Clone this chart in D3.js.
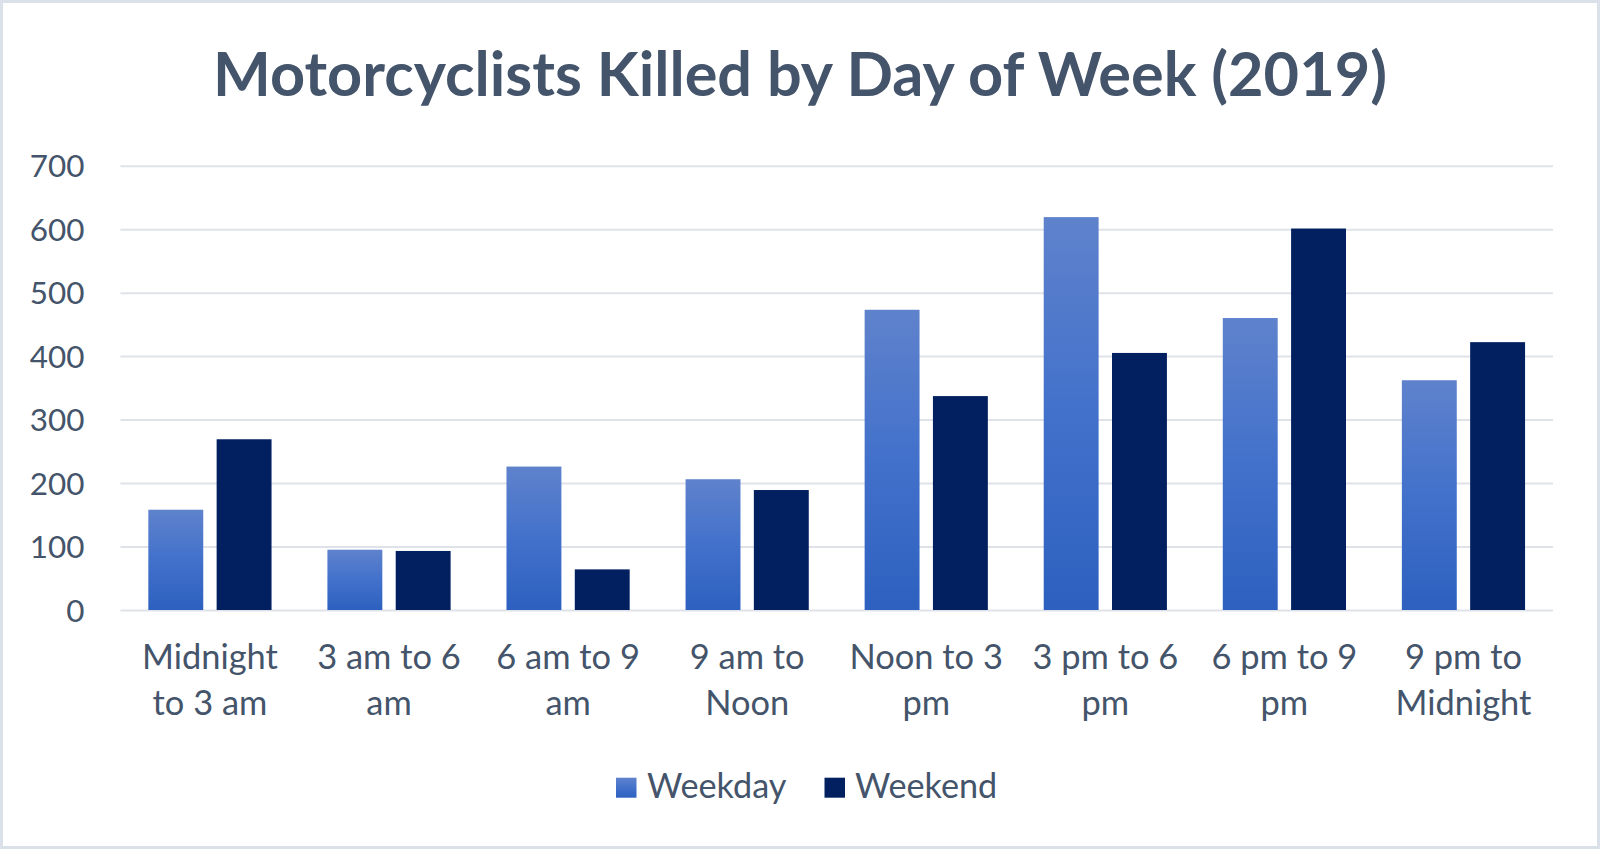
<!DOCTYPE html>
<html>
<head>
<meta charset="utf-8">
<script src="https://cdn.jsdelivr.net/npm/d3@7"></script>
<style>
  html, body { margin: 0; padding: 0; background: #ffffff; }
  svg { display: block; }
</style>
</head>
<body>
<svg id="chart" width="1600" height="849"></svg>
<script>
// ---- Data ----
const title = "Motorcyclists Killed by Day of Week (2019)";
const categories = ["Midnight to 3 am", "3 am to 6 am", "6 am to 9 am", "9 am to Noon",
                    "Noon to 3 pm", "3 pm to 6 pm", "6 pm to 9 pm", "9 pm to Midnight"];
const categoryLines = [["Midnight", "to 3 am"], ["3 am to 6", "am"], ["6 am to 9", "am"], ["9 am to", "Noon"],
                       ["Noon to 3", "pm"], ["3 pm to 6", "pm"], ["6 pm to 9", "pm"], ["9 pm to", "Midnight"]];
const series = ["Weekday", "Weekend"];
const weekday = [158, 95, 226, 206, 473, 619, 460, 362];
const weekend = [269, 93, 64, 189, 337, 405, 601, 422];
const yTicks = [0, 100, 200, 300, 400, 500, 600, 700];

// ---- Layout ----
const W = 1600, H = 849;
const plotLeft = 120.4, plotRight = 1553, plotTop = 165.7, plotBottom = 610;
const textColor = "#44546a";
const font = "Lato, 'Open Sans', sans-serif";

const svg = d3.select("#chart");

// background + border
svg.append("rect").attr("x", 1.5).attr("y", 1.5).attr("width", W - 3).attr("height", H - 3)
  .attr("fill", "#ffffff").attr("stroke", "#dbe1e8").attr("stroke-width", 3);

const defs = svg.append("defs");
const grad = defs.append("linearGradient").attr("id", "gWeekday")
  .attr("x1", 0).attr("y1", 0).attr("x2", 0).attr("y2", 1);
grad.append("stop").attr("offset", "0%").attr("stop-color", "#5f82cc");
grad.append("stop").attr("offset", "50%").attr("stop-color", "#4271cb");
grad.append("stop").attr("offset", "100%").attr("stop-color", "#2d60bf");

const colors = { Weekday: "url(#gWeekday)", Weekend: "#02205f" };

// helper: fit font-size to a target width
function fitText(sel, targetWidth) {
  const node = sel.node();
  const fs = parseFloat(sel.attr("font-size"));
  const w = node.getComputedTextLength();
  if (w > 0) sel.attr("font-size", (fs * targetWidth / w).toFixed(2));
  return sel;
}

// scales
const x0 = d3.scaleBand().domain(categories).range([plotLeft, plotRight]).padding(0);
const bw = x0.bandwidth();
const x1 = d3.scaleBand().domain(series).range([bw * 0.156, bw * 0.844]).paddingInner(0.196).paddingOuter(0);
const y = d3.scaleLinear().domain([0, 700]).range([plotBottom, plotTop]);

// title
const t = svg.append("text").attr("x", 800).attr("y", 96).attr("text-anchor", "middle")
  .attr("font-family", font).attr("font-weight", "bold").attr("font-size", 60)
  .attr("fill", textColor).text(title);
fitText(t, 1174);

// gridlines + y labels
const yAxis = d3.axisLeft(y).tickValues(yTicks).tickSize(-(plotRight - plotLeft)).tickPadding(36);
const gy = svg.append("g").attr("transform", `translate(${plotLeft},0)`).call(yAxis);
gy.select(".domain").remove();
gy.selectAll(".tick line").attr("stroke", "#dfe3e9").attr("stroke-width", 2);
gy.selectAll(".tick text").attr("font-family", font).attr("font-size", 34)
  .attr("fill", textColor).attr("dy", "0.35em");
// fit y label size using "700"
{
  const n = gy.selectAll(".tick text").filter(d => d === 700);
  const w = n.node().getComputedTextLength();
  const fs = 34 * 54.7 / w;
  gy.selectAll(".tick text").attr("font-size", fs.toFixed(2));
}

// bars
const groups = svg.append("g").selectAll("g").data(categories).join("g")
  .attr("transform", d => `translate(${x0(d)},0)`);
groups.selectAll("rect").data((d, i) => [
    { s: "Weekday", v: weekday[i] },
    { s: "Weekend", v: weekend[i] }
  ]).join("rect")
  .attr("x", d => x1(d.s))
  .attr("width", x1.bandwidth())
  .attr("y", d => y(d.v))
  .attr("height", d => y(0) - y(d.v))
  .attr("fill", d => colors[d.s]);

// x labels
const xl = svg.append("g");
categories.forEach((c, i) => {
  const cx = x0(c) + bw / 2;
  categoryLines[i].forEach((line, j) => {
    xl.append("text").attr("class", "xlab").attr("x", cx).attr("y", 669 + j * 46)
      .attr("text-anchor", "middle").attr("font-family", font).attr("font-size", 34)
      .attr("fill", textColor).text(line);
  });
});
{
  const ref = xl.selectAll(".xlab").filter(function () { return this.textContent === "Midnight"; }).node();
  const w = ref.getComputedTextLength();
  const fs = 34 * 136 / w;
  xl.selectAll(".xlab").attr("font-size", fs.toFixed(2));
}

// legend
const legendItems = [
  { s: "Weekday", sx: 616, tx: 647 },
  { s: "Weekend", sx: 824.5, tx: 855 }
];
const lg = svg.append("g");
legendItems.forEach(it => {
  lg.append("rect").attr("x", it.sx).attr("y", 777.7).attr("width", 20.5).attr("height", 20)
    .attr("fill", colors[it.s]);
  lg.append("text").attr("class", "leg").attr("x", it.tx).attr("y", 797.7)
    .attr("font-family", font).attr("font-size", 34).attr("fill", textColor).text(it.s);
});
{
  const ref = lg.selectAll(".leg").filter(function () { return this.textContent === "Weekday"; }).node();
  const w = ref.getComputedTextLength();
  const fs = 34 * 139.4 / w;
  lg.selectAll(".leg").attr("font-size", fs.toFixed(2));
}
</script>
</body>
</html>
